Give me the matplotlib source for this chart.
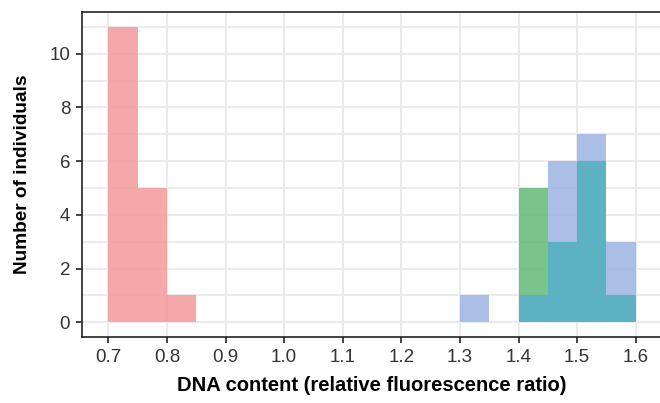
import matplotlib
matplotlib.use("Agg")
import matplotlib.pyplot as plt

# histogram bins (left edges), width 0.05
bin_width = 0.05
red_left = [0.70, 0.75, 0.80]
red_counts = [11, 5, 1]
green_left = [1.40, 1.45, 1.50, 1.55]
green_counts = [5, 3, 6, 1]
blue_left = [1.30, 1.40, 1.45, 1.50, 1.55]
blue_counts = [1, 1, 6, 7, 3]

x_ticks = [0.7, 0.8, 0.9, 1.0, 1.1, 1.2, 1.3, 1.4, 1.5, 1.6]
y_ticks = [0, 2, 4, 6, 8, 10]

plt.rcParams['font.family'] = ['Liberation Sans', 'DejaVu Sans']

fig = plt.figure(figsize=(6.6, 4.03), dpi=100)
ax = fig.add_axes([0.1242, 0.1638, 0.879, 0.806])

# grid
for x in x_ticks:
    ax.axvline(x, color='#ebebeb', lw=1.4, zorder=0)
for y in range(0, 12):
    ax.axhline(y, color='#ebebeb', lw=1.4, zorder=0)

alpha = 0.85
ax.bar(red_left, red_counts, width=bin_width, align='edge', color='#F3999B', alpha=alpha, lw=0, zorder=2)
ax.bar(green_left, green_counts, width=bin_width, align='edge', color='#60BA78', alpha=alpha, lw=0, zorder=2)
ax.bar(blue_left, blue_counts, width=bin_width, align='edge', color='#9BB3E2', alpha=alpha, lw=0, zorder=2)

# where green and blue overlap the colours mix to teal
g = dict(zip(green_left, green_counts))
b = dict(zip(blue_left, blue_counts))
both = [k for k in green_left if k in b]
ax.bar(both, [min(g[k], b[k]) for k in both], width=bin_width, align='edge',
       color='#5AB2C3', alpha=0.97, lw=0, zorder=3)

ax.set_xlim(0.655, 1.645)
ax.set_ylim(-0.55, 11.55)
ax.set_xticks(x_ticks)
ax.set_xticklabels([f'{v:.1f}' for v in x_ticks])
ax.set_yticks(y_ticks)

for s in ax.spines.values():
    s.set_color('#222222')
    s.set_linewidth(1.2)
ax.tick_params(length=4.5, width=1.2, color='#222222', labelsize=13.5, labelcolor='#333333', pad=4)

ax.set_xlabel('DNA content (relative fluorescence ratio)', fontsize=14.5, fontweight='bold', labelpad=7)
ax.set_ylabel('Number of individuals', fontsize=13.7, fontweight='bold', labelpad=13)

fig.savefig('out.png', dpi=100)
